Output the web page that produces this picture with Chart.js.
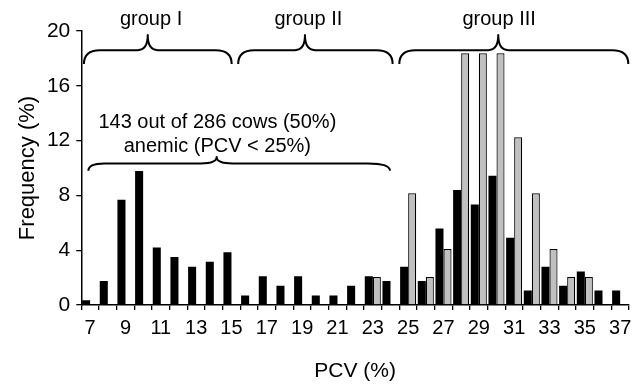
<!DOCTYPE html>
<html>
<head>
<meta charset="utf-8">
<script src="https://cdn.jsdelivr.net/npm/chart.js@4"></script>
<style>
html,body{margin:0;padding:0;background:#fff;}
#wrap{width:641px;height:385px;position:relative;}
</style>
</head>
<body>
<div id="wrap"><canvas id="c" width="641" height="385"></canvas></div>
<script>
// PCV categories (%)
const pcvLabels = ['7','8','9','10','11','12','13','14','15','16','17','18','19','20','21','22','23','24','25','26','27','28','29','30','31','32','33','34','35','36','37'];
// black bars: frequency (%) of all cows
const freqAll = [0.35,1.75,7.69,9.79,4.20,3.50,2.80,3.15,3.85,0.70,2.10,1.40,2.10,0.70,0.70,1.40,2.10,1.75,2.80,1.75,5.59,8.39,7.34,9.44,4.90,1.05,2.80,1.40,2.45,1.05,1.05];
// grey bars: frequency (%) of second group
const freqGrey = [null,null,null,null,null,null,null,null,null,null,null,null,null,null,null,null,2.04,null,8.16,2.04,4.08,18.37,18.37,18.37,12.24,8.16,4.08,2.04,2.04,null,null];
const yTicks = [0,4,8,12,16,20];

// annotation text
const groupTexts = [
  {text:'group I', x:10.45},
  {text:'group II', x:19.35},
  {text:'group III', x:30.15}
];
const anemicLines = ['143 out of 286 cows (50%)', 'anemic (PCV < 25%)'];
// braces in PCV units: start, end, peak
const groupBraces = [[6.65,15.01,10.26],[15.38,24.12,19.16],[24.5,37.46,30.1]];
const anemicBrace = [6.9,23.97,14.16];

const FONT = "'Liberation Sans', Arial, Helvetica, sans-serif";

function brace(ctx, x1, x2, xp, yE, yL, yP, rE1, rE2, rP) {
  ctx.beginPath();
  ctx.moveTo(x1, yE);
  ctx.quadraticCurveTo(x1, yL, x1 + rE1, yL);
  ctx.lineTo(xp - rP, yL);
  ctx.quadraticCurveTo(xp, yL, xp, yP);
  ctx.quadraticCurveTo(xp, yL, xp + rP, yL);
  ctx.lineTo(x2 - rE2, yL);
  ctx.quadraticCurveTo(x2, yL, x2, yE);
  ctx.stroke();
}

const annot = {
  id: 'annot',
  afterDraw(chart) {
    const ctx = chart.ctx, xs = chart.scales.x, ys = chart.scales.y;
    const px = v => xs.getPixelForValue(v - 7);
    ctx.save();
    ctx.strokeStyle = '#000';
    ctx.lineWidth = 2;
    ctx.lineJoin = 'round';
    groupBraces.forEach(b => {
      brace(ctx, px(b[0]), px(b[1]), px(b[2]), ys.getPixelForValue(17.6), ys.getPixelForValue(18.6), ys.getPixelForValue(19.7), 16, 16, 10);
    });
    brace(ctx, px(anemicBrace[0]), px(anemicBrace[1]), px(anemicBrace[2]), ys.getPixelForValue(9.8), ys.getPixelForValue(10.33), ys.getPixelForValue(10.8), 16, 22, 16);
    ctx.fillStyle = '#000';
    ctx.font = '20px ' + FONT;
    ctx.textAlign = 'center';
    ctx.textBaseline = 'alphabetic';
    groupTexts.forEach(g => ctx.fillText(g.text, px(g.x), ys.getPixelForValue(20.45)));
    ctx.fillText(anemicLines[0], px(14.2), ys.getPixelForValue(12.9));
    ctx.fillText(anemicLines[1], px(14.2), ys.getPixelForValue(11.15));
    ctx.restore();
  }
};

new Chart(document.getElementById('c'), {
  type: 'bar',
  data: {
    labels: pcvLabels,
    datasets: [
      {data: freqAll, backgroundColor: '#000', borderWidth: 0, categoryPercentage: 0.91, barPercentage: 1.0},
      {data: freqGrey, backgroundColor: '#c0c0c0', borderColor: '#000', borderWidth: 1.2, categoryPercentage: 0.91, barPercentage: 1.0}
    ]
  },
  options: {
    responsive: false,
    animation: false,
    events: [],
    layout: {padding: {top: 31, right: 12, left: 0, bottom: 0}},
    plugins: {legend: {display: false}, tooltip: {enabled: false}},
    scales: {
      x: {
        grid: {offset: true, drawOnChartArea: false, drawTicks: true, tickLength: 5, color: '#000', lineWidth: 1.3},
        border: {display: true, color: '#000', width: 1.5},
        ticks: {
          autoSkip: false, maxRotation: 0, minRotation: 0, padding: 6, color: '#000',
          font: {family: FONT, size: 20},
          callback: function(v, i) { return (i % 2 === 0) ? pcvLabels[i] : ''; }
        },
        title: {display: true, text: 'PCV (%)', color: '#000', font: {family: FONT, size: 21}, padding: {top: 0, bottom: 1}},
        afterFit: s => { s.height = 80; }
      },
      y: {
        min: 0, max: 20,
        grid: {drawOnChartArea: false, drawTicks: true, tickLength: 5, color: '#000', lineWidth: 1.3},
        border: {display: true, color: '#000', width: 1.5},
        ticks: {
          stepSize: 2, padding: 6, color: '#000',
          font: {family: FONT, size: 21},
          callback: v => yTicks.includes(v) ? String(v) : ''
        },
        title: {display: true, text: 'Frequency (%)', color: '#000', font: {family: FONT, size: 22}, padding: {top: 15, bottom: 0}},
        afterFit: s => { s.width = 81.3; }
      }
    }
  },
  plugins: [annot]
});
</script>
</body>
</html>
